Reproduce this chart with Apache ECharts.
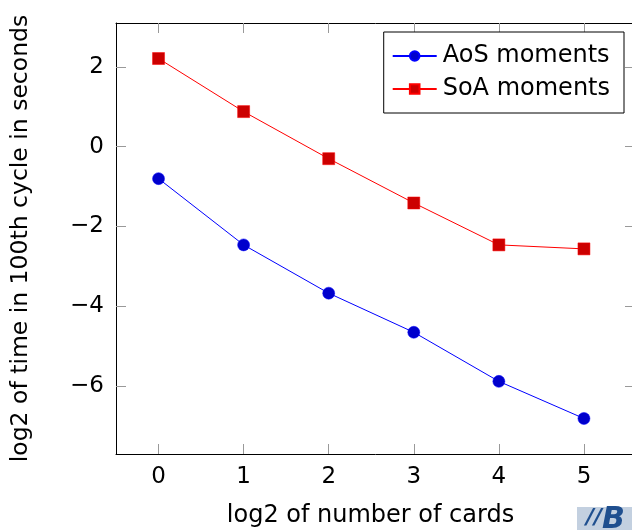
<!DOCTYPE html>
<html>
<head>
<meta charset="utf-8">
<script src="https://cdn.jsdelivr.net/npm/echarts@6/dist/echarts.min.js"></script>
<style>
html,body{margin:0;padding:0;background:#fff;overflow:hidden;}
#c{width:640px;height:530px;}
</style>
</head>
<body>
<div id="c"></div>
<script>
const xValues = [0, 1, 2, 3, 4, 5];
const aosValues = [-0.80, -2.46, -3.67, -4.65, -5.88, -6.81];
const soaValues = [2.21, 0.88, -0.30, -1.41, -2.46, -2.56];
const xTicks = [0, 1, 2, 3, 4, 5];
const yTicks = [-6, -4, -2, 0, 2];
const seriesNames = ['AoS moments', 'SoA moments'];
const xTitle = 'log2 of number of cards';
const yTitle = 'log2 of time in 100th cycle in seconds';

const FONT = 'DejaVu Sans';
const fmt = v => String(v).replace('-', '\u2212');
const chart = echarts.init(document.getElementById('c'), null, {renderer: 'canvas'});
const tickStyle = {show: true, inside: true, length: 10, lineStyle: {color: '#999', width: 1}};
const lineAxis = {show: true, onZero: false, lineStyle: {color: '#000', width: 1}};

chart.setOption({
  animation: false,
  backgroundColor: '#fff',
  grid: {left: 116, top: 23, right: 5, bottom: 76, containLabel: false, outerBoundsMode: 'none'},
  graphic: [
    {type: 'rect', left: 577, top: 507, shape: {width: 70, height: 30}, style: {fill: '#c3d0e0'}, silent: true},
    {type: 'text', left: 586, top: 507, style: {text: '//', fill: '#1f4f8f', font: 'italic bold 22px "DejaVu Sans"'}, silent: true},
    {type: 'text', left: 602, top: 505, style: {text: 'B', fill: '#1f4f8f', font: 'italic bold 30px "DejaVu Sans"'}, silent: true}
  ],
  legend: {
    right: 16, top: 32,
    orient: 'vertical',
    backgroundColor: '#fff',
    borderColor: '#000', borderWidth: 1,
    padding: [12, 14, 12, 8],
    itemGap: 9,
    itemWidth: 44, itemHeight: 12,
    textStyle: {fontFamily: FONT, fontSize: 24, color: '#000', padding: [0, 0, 0, 1]},
    data: seriesNames
  },
  xAxis: [{
    type: 'value', min: -0.5, max: 5.6,
    name: xTitle, nameLocation: 'middle', nameGap: 50,
    nameTextStyle: {fontFamily: FONT, fontSize: 24, color: '#000', padding: [0, 10, 0, 0]},
    axisLine: lineAxis,
    axisTick: Object.assign({customValues: xTicks}, tickStyle),
    axisLabel: {customValues: xTicks, fontFamily: FONT, fontSize: 23, color: '#000', margin: 12, formatter: fmt},
    splitLine: {show: false}
  }, {
    type: 'value', min: -0.5, max: 5.6, position: 'top',
    axisLine: lineAxis,
    axisTick: Object.assign({customValues: xTicks}, tickStyle),
    axisLabel: {show: false},
    splitLine: {show: false}
  }],
  yAxis: [{
    type: 'value', min: -7.7, max: 3.1,
    name: yTitle, nameLocation: 'middle', nameGap: 83,
    nameTextStyle: {fontFamily: FONT, fontSize: 23.5, color: '#000'},
    axisLine: lineAxis,
    axisTick: Object.assign({customValues: yTicks}, tickStyle),
    axisLabel: {customValues: yTicks, fontFamily: FONT, fontSize: 23, color: '#000', margin: 12, formatter: fmt},
    splitLine: {show: false}
  }, {
    type: 'value', min: -7.7, max: 3.1, position: 'right',
    axisLine: lineAxis,
    axisTick: Object.assign({customValues: yTicks}, tickStyle),
    axisLabel: {show: false},
    splitLine: {show: false}
  }],
  series: [{
    name: seriesNames[0], type: 'line',
    data: xValues.map((x, i) => [x, aosValues[i]]),
    symbol: 'circle', symbolSize: 12,
    lineStyle: {color: '#0000ff', width: 1},
    itemStyle: {color: '#0000cc', borderColor: '#0000ff', borderWidth: 0.5}
  }, {
    name: seriesNames[1], type: 'line',
    data: xValues.map((x, i) => [x, soaValues[i]]),
    symbol: 'rect', symbolSize: 12,
    lineStyle: {color: '#ff0000', width: 1},
    itemStyle: {color: '#cc0000', borderColor: '#ff0000', borderWidth: 0.5}
  }]
});
</script>
</body>
</html>
